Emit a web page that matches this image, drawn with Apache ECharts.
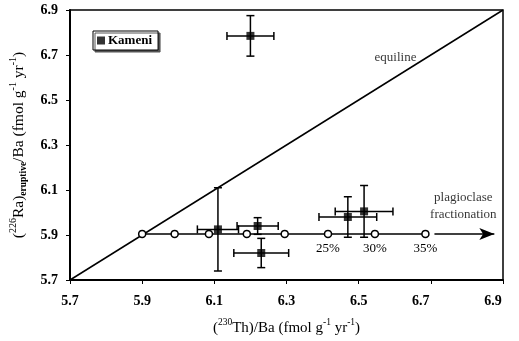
<!DOCTYPE html>
<html><head><meta charset="utf-8">
<script src="https://cdn.jsdelivr.net/npm/echarts@6/dist/echarts.min.js"></script>
<style>html,body{margin:0;padding:0;background:#fff}#c{width:519px;height:341px}</style>
</head><body><div id="c"></div>
<script>
const xTicks = [5.7, 5.9, 6.1, 6.3, 6.5, 6.7, 6.9];
const yTicks = [5.7, 5.9, 6.1, 6.3, 6.5, 6.7, 6.9];
const kameniX = [6.20, 6.11, 6.22, 6.23, 6.47, 6.515];
const kameniY = [6.785, 5.925, 5.94, 5.82, 5.98, 6.005];
const kameniXErr = [0.065, 0.057, 0.057, 0.076, 0.08, 0.08];
const kameniYErr = [0.09, 0.185, 0.037, 0.065, 0.09, 0.115];
const fracX = [5.90, 5.99, 6.085, 6.19, 6.295, 6.415, 6.545, 6.685];
const fracY = [5.905, 5.905, 5.905, 5.905, 5.905, 5.905, 5.905, 5.905];
const fracLabels = ['', '', '', '', '', '25%', '30%', '35%'];
const equiline = [[5.7, 5.7], [6.9, 6.9]];
const arrowFrom = [6.71, 5.905];
const arrowTo = [6.876, 5.905];

const F = '"Liberation Serif", "Times New Roman", serif';
const chart = echarts.init(document.getElementById('c'));
const errData = kameniX.map((x, i) => [x, kameniY[i], kameniXErr[i], kameniYErr[i]]);
const cap = 4;
chart.setOption({
  animation: false,
  grid: {left: 68, right: 16, top: 10, bottom: 60, show: true, borderColor: '#000', borderWidth: 1.5},
  legend: {
    left: 93, top: 31, data: [{name: 'Kameni', icon: 'rect'}],
    itemWidth: 8, itemHeight: 8, itemGap: 4,
    borderColor: '#000', borderWidth: 1, padding: [3, 6, 3, 4],
    backgroundColor: '#fff', shadowColor: '#555', shadowOffsetX: 2, shadowOffsetY: 2, shadowBlur: 0,
    textStyle: {fontFamily: F, fontSize: 13, fontWeight: 'bold', color: '#000', padding: [0, 0, 0, -2]}
  },
  xAxis: {
    type: 'value', min: 5.7, max: 6.9, interval: 0.2,
    axisLine: {show: true, lineStyle: {color: '#000', width: 2}},
    axisTick: {show: true, length: 4, lineStyle: {color: '#000'}},
    splitLine: {show: false},
    axisLabel: {fontFamily: F, fontSize: 14, fontWeight: 'bold', color: '#000', margin: 14,
      formatter: v => {
        const s = v.toFixed(1);
        if (s === '6.7' || s === '6.9') return '{l|' + s + '}';
        return s;
      },
      rich: {l: {fontFamily: F, fontSize: 14, fontWeight: 'bold', color: '#000', padding: [0, 20, 0, 0]}}
    },
    name: '{n|(}{s|230}{n|Th)/Ba (fmol g}{s|-1}{n| yr}{s|-1}{n|)}',
    nameLocation: 'middle', nameGap: 37,
    nameTextStyle: {rich: {
      n: {fontFamily: F, fontSize: 15, color: '#000', lineHeight: 19, verticalAlign: 'bottom'},
      s: {fontFamily: F, fontSize: 9.5, color: '#000', lineHeight: 19, verticalAlign: 'top'}
    }}
  },
  yAxis: {
    type: 'value', min: 5.7, max: 6.9, interval: 0.2,
    axisLine: {show: true, lineStyle: {color: '#000', width: 2}},
    axisTick: {show: true, length: 4, lineStyle: {color: '#000'}},
    splitLine: {show: false},
    axisLabel: {fontFamily: F, fontSize: 14, fontWeight: 'bold', color: '#000', margin: 12,
      formatter: v => v.toFixed(1)},
    name: '{n|(}{s|226}{n|Ra)}{b|eruptive}{n|/Ba (fmol g}{s|-1}{n| yr}{s|-1}{n|)}',
    nameLocation: 'middle', nameGap: 41, nameRotate: 90,
    nameTextStyle: {rich: {
      n: {fontFamily: F, fontSize: 15.5, color: '#000', lineHeight: 21, verticalAlign: 'middle'},
      s: {fontFamily: F, fontSize: 10, color: '#000', lineHeight: 21, verticalAlign: 'top'},
      b: {fontFamily: F, fontSize: 9.5, fontWeight: 'bold', color: '#000', lineHeight: 21, verticalAlign: 'bottom'}
    }}
  },
  series: [
    {
      type: 'line', data: equiline, symbol: 'none', silent: true,
      lineStyle: {color: '#000', width: 1.5}, z: 2
    },
    {
      type: 'line', data: fracX.map((x, i) => [x, fracY[i], fracLabels[i]]),
      symbol: 'circle', symbolSize: 7, z: 4,
      itemStyle: {color: '#fff', borderColor: '#000', borderWidth: 1.5},
      lineStyle: {color: '#000', width: 1.5},
      label: {show: true, position: 'bottom', distance: 4, formatter: p => p.data[2],
        fontFamily: F, fontSize: 13, color: '#000'},
      markLine: {
        silent: true, symbol: ['none', 'arrow'], symbolSize: [9, 15],
        lineStyle: {color: '#000', width: 1.5, type: 'solid'}, label: {show: false},
        data: [[{coord: arrowFrom}, {coord: arrowTo}]]
      }
    },
    {
      type: 'custom', name: 'errbars', z: 5, silent: true,
      data: errData,
      renderItem: function (params, api) {
        const x = api.value(0), y = api.value(1), ex = api.value(2), ey = api.value(3);
        const l = api.coord([x - ex, y]), r = api.coord([x + ex, y]);
        const t = api.coord([x, y + ey]), b = api.coord([x, y - ey]);
        const st = {stroke: '#000', lineWidth: 1.5};
        return {type: 'group', children: [
          {type: 'line', shape: {x1: l[0], y1: l[1], x2: r[0], y2: r[1]}, style: st},
          {type: 'line', shape: {x1: l[0], y1: l[1] - cap, x2: l[0], y2: l[1] + cap}, style: st},
          {type: 'line', shape: {x1: r[0], y1: r[1] - cap, x2: r[0], y2: r[1] + cap}, style: st},
          {type: 'line', shape: {x1: t[0], y1: t[1], x2: b[0], y2: b[1]}, style: st},
          {type: 'line', shape: {x1: t[0] - cap, y1: t[1], x2: t[0] + cap, y2: t[1]}, style: st},
          {type: 'line', shape: {x1: b[0] - cap, y1: b[1], x2: b[0] + cap, y2: b[1]}, style: st}
        ]};
      }
    },
    {
      type: 'scatter', name: 'Kameni', z: 6,
      data: kameniX.map((x, i) => [x, kameniY[i]]),
      symbol: 'rect', symbolSize: 8, itemStyle: {color: '#000'}
    },
    {
      type: 'scatter', silent: true, symbolSize: 0,
      data: [[6.66, 6.69, 'equiline']],
      label: {show: true, position: 'left', distance: 0, formatter: p => p.data[2],
        fontFamily: F, fontSize: 13, color: '#000'}
    },
    {
      type: 'scatter', silent: true, symbolSize: 0,
      data: [[6.79, 6.03, 'plagioclase\nfractionation']],
      label: {show: true, position: 'inside', formatter: p => p.data[2], lineHeight: 17,
        align: 'center', fontFamily: F, fontSize: 13, color: '#000'}
    }
  ]
});
</script></body></html>
